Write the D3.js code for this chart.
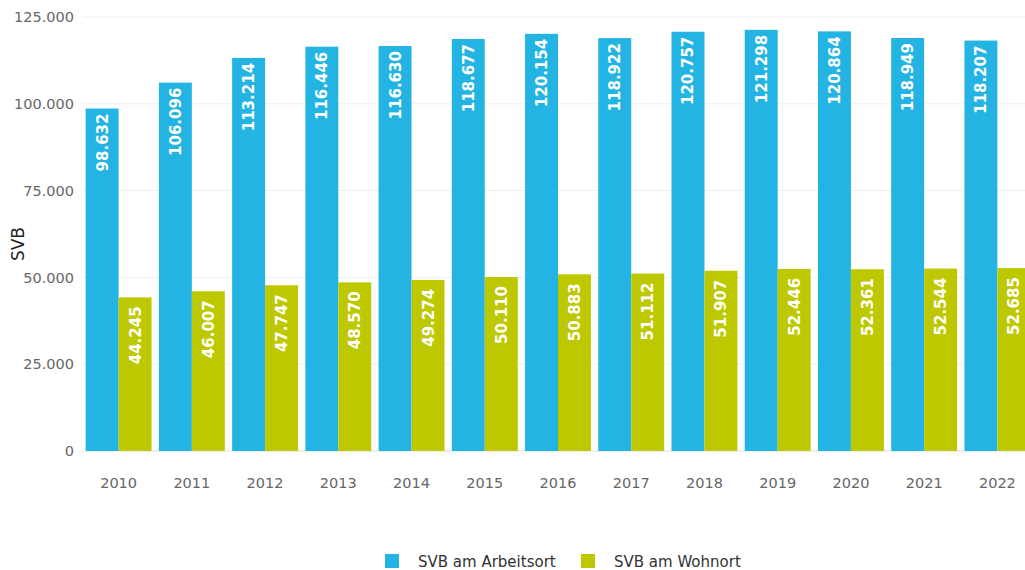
<!DOCTYPE html>
<html>
<head>
<meta charset="utf-8">
<script src="https://cdn.jsdelivr.net/npm/d3@7"></script>
<style>
  html, body { margin: 0; padding: 0; background: #fff; }
  svg { display: block; font-family: "DejaVu Sans", Verdana, sans-serif; }
</style>
</head>
<body>
<svg id="chart" width="1025" height="570"></svg>
<script>
// Sozialversicherungspflichtig Beschäftigte, 2010–2022
const years = ["2010","2011","2012","2013","2014","2015","2016","2017","2018","2019","2020","2021","2022"];
const arbeitsort = [98632,106096,113214,116446,116630,118677,120154,118922,120757,121298,120864,118949,118207];
const wohnort = [44245,46007,47747,48570,49274,50110,50883,51112,51907,52446,52361,52544,52685];
const seriesNames = ["SVB am Arbeitsort", "SVB am Wohnort"];
const yTicks = [0, 25000, 50000, 75000, 100000, 125000];

const colors = ["#24b4e3", "#bec800"];
const de = d3.formatLocale({ decimal: ",", thousands: ".", grouping: [3], currency: ["", " €"] });
const fmt = de.format(",d");

const svg = d3.select("#chart");
const W = 1025;
const plotLeft = 82, plotRight = 1034, plotTop = 17, plotBottom = 451;

const x = d3.scaleBand().domain(years).range([plotLeft, plotRight]).paddingInner(0.1).paddingOuter(0.05);
const xs = d3.scaleBand().domain([0, 1]).range([0, x.bandwidth()]);
const y = d3.scaleLinear().domain([0, 125000]).range([plotBottom, plotTop]);

// gridlines
svg.append("g").selectAll("line").data(yTicks).join("line")
  .attr("x1", plotLeft).attr("x2", W)
  .attr("y1", d => y(d)).attr("y2", d => y(d))
  .attr("stroke", d => d === 0 ? "#e0e0e0" : "#efefef")
  .attr("stroke-width", 1);

// y axis labels
const yAxis = d3.axisLeft(y).tickValues(yTicks).tickFormat(fmt).tickSize(0).tickPadding(0);
svg.append("g").attr("transform", `translate(${plotLeft - 8},0)`).call(yAxis)
  .call(g => g.select(".domain").remove())
  .selectAll("text")
  .attr("fill", "#666").style("font-size", "14.5px").style("font-family", "DejaVu Sans, Verdana, sans-serif");

// x axis labels
const xAxis = d3.axisBottom(x).tickSize(0).tickPadding(0);
svg.append("g").attr("transform", `translate(0,${plotBottom + 27})`).call(xAxis)
  .call(g => g.select(".domain").remove())
  .selectAll("text")
  .attr("fill", "#666").style("font-size", "14.5px").style("font-family", "DejaVu Sans, Verdana, sans-serif");

// y axis title
svg.append("text")
  .attr("transform", `translate(24,${(plotTop + plotBottom) / 2 + 10}) rotate(-90)`)
  .attr("text-anchor", "middle")
  .attr("fill", "#222")
  .style("font-size", "17px")
  .text("SVB");

const rows = years.map((yr, i) => ({ yr, vals: [arbeitsort[i], wohnort[i]] }));

const groups = svg.append("g").selectAll("g").data(rows).join("g")
  .attr("transform", d => `translate(${x(d.yr)},0)`);

groups.selectAll("rect").data(d => d.vals.map((v, k) => ({ v, k }))).join("rect")
  .attr("x", d => xs(d.k))
  .attr("width", xs.bandwidth())
  .attr("y", d => y(d.v))
  .attr("height", d => y(0) - y(d.v))
  .attr("fill", d => colors[d.k]);

groups.selectAll("text").data(d => d.vals.map((v, k) => ({ v, k }))).join("text")
  .attr("transform", d => `translate(${xs(d.k) + xs.bandwidth() / 2 + 5.5},${y(d.v) + (d.k === 0 ? 5 : 9)}) rotate(-90)`)
  .attr("text-anchor", "end")
  .attr("fill", "#fff")
  .style("font-size", "15px")
  .style("font-weight", "bold")
  .text(d => fmt(d.v));

// legend
const legend = svg.append("g");
const legX = [385, 581];
seriesNames.forEach((name, k) => {
  legend.append("rect").attr("x", legX[k]).attr("y", 554).attr("width", 14).attr("height", 14).attr("fill", colors[k]);
  legend.append("text").attr("x", legX[k] + 33).attr("y", 567)
    .attr("fill", "#333").style("font-size", "15px").text(name);
});
</script>
</body>
</html>
